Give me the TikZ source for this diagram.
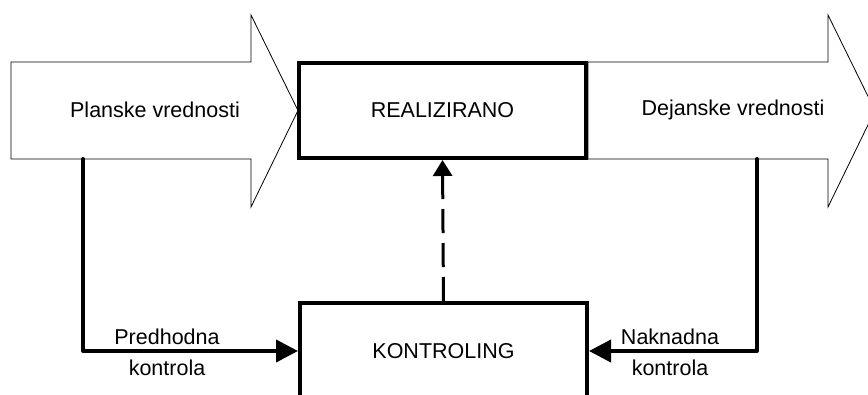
\documentclass[tikz,border=0pt]{standalone}
\usepackage{fontspec}
\setmainfont{Liberation Sans}
\usetikzlibrary{arrows.meta,positioning}

\begin{document}
\begin{tikzpicture}[x=1pt,y=-1pt,
  blok/.style={draw,fill=white,line width=4pt,minimum width=287pt,minimum height=95pt,font=\fontsize{21.5}{25}\selectfont},
  tok/.style={draw,line width=0.8pt,fill=white},
  tekst/.style={inner sep=0pt,font=\fontsize{21.5}{25}\selectfont},
  opis/.style={align=center,inner sep=0pt,font=\fontsize{21.5}{31}\selectfont},
  veza/.style={line width=4pt,line cap=round,line join=round,-{Triangle[length=22pt,width=22pt]}}]
  \useasboundingbox (0,0) rectangle (868,394);
  \clip (0,0) rectangle (868,394);
  % wide arrows
  \draw[tok] (11,62) -- (251,62) -- (251,15) -- (298,110.5) -- (251,207) -- (251,159) -- (11,159) -- cycle;
  \draw[tok] (588,62) -- (828,62) -- (828,15) -- (875,110.5) -- (828,207) -- (828,159) -- (588,159) -- cycle;
  \node[tekst] (plan) at (155,110) {Planske vrednosti};
  \node[tekst] (dej) at (733,110) {Dejanske vrednosti};
  \coordinate (planD) at (83,159);
  \coordinate (dejD) at (757,159);
  % boxes
  \node[blok] (real) at (442.5,110.5) {REALIZIRANO};
  \node[blok,minimum height=96pt] (kont) at (443.5,351) {KONTROLING};
  % connectors
  \draw[line width=3pt,dash pattern=on 24pt off 10pt,-{Triangle[length=16pt,width=19pt]}] (kont.north) -- (real.south);
  \draw[veza] (planD) |- (kont.west);
  \draw[veza] (dejD) |- (kont.east);
  \node[opis] (predh) at (167,352) {Predhodna\\kontrola};
  \node[opis] (nakn) at (670,352) {Naknadna\\kontrola};
\end{tikzpicture}
\end{document}
